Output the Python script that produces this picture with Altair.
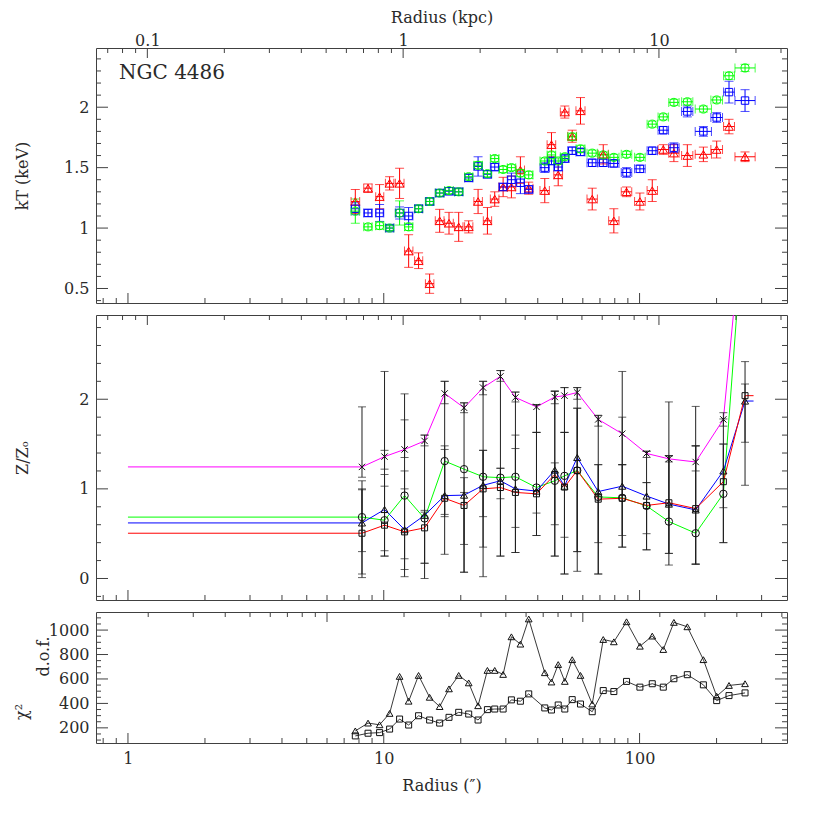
import altair as alt
import pandas as pd

FONT = "DejaVu Serif"
FS = 16
INK = "#404040"
TXT = "#2a2a2a"
RED, BLUE, GREEN, MAG = "#ff0000", "#0000ff", "#00ff00", "#ff00ff"
W = 691
H1, H2, H3 = 255, 285, 131
XDOM = [0.75, 377.0]
KPC_PER_ARCSEC = 0.084
MAJ, MIN = 10, 5
CROSS = "M-1,-1L1,1M-1,1L1,-1"
TITLE_X = -66

# ---------------- tick values ----------------
sec_major = [1, 10, 100]
sec_minor = [0.8, 0.9, 2, 3, 4, 5, 6, 7, 8, 9, 20, 30, 40, 50, 60, 70, 80, 90, 200, 300]
kpc_major = [0.1, 1, 10]
kpc_minor = [0.07, 0.08, 0.09, 0.2, 0.3, 0.4, 0.5, 0.6, 0.7, 0.8, 0.9,
             2, 3, 4, 5, 6, 7, 8, 9, 20, 30]
min_major = [0.1, 1]
min_minor = [0.02, 0.03, 0.04, 0.05, 0.06, 0.07, 0.08, 0.09,
             0.2, 0.3, 0.4, 0.5, 0.6, 0.7, 0.8, 0.9, 2, 3, 4, 5, 6]
kT_major = [0.5, 1, 1.5, 2]
kT_minor = [0.4, 0.6, 0.7, 0.8, 0.9, 1.1, 1.2, 1.3, 1.4, 1.6, 1.7, 1.8, 1.9, 2.1, 2.2, 2.3, 2.4]
Z_major = [0, 1, 2]
Z_minor = [-0.2, 0.2, 0.4, 0.6, 0.8, 1.2, 1.4, 1.6, 1.8, 2.2, 2.4, 2.6, 2.8]
chi_major = [200, 400, 600, 800, 1000]
chi_minor = [100, 150, 250, 300, 350, 450, 500, 550, 650, 700, 750, 850, 900, 950, 1050, 1100]

# ---------------- top panel: temperatures ----------------
r_kT = [7.74, 8.68, 9.63, 10.54, 11.53, 12.51, 13.68, 15.11, 16.54, 17.99, 19.63, 21.48,
        23.37, 25.42, 27.15, 29.28, 31.55, 34.21, 36.87, 42.60, 45.25, 48.07, 51.02, 54.53,
        58.76, 65.30, 72.11, 79.33, 88.93, 100.3, 112.1, 123.8, 136.2, 153.7, 177.6, 200.2,
        223.7, 258.4]
r_in = [7.45, 8.35, 9.3, 10.15, 11.1, 12.05, 13.2, 14.55, 15.9, 17.3, 18.9, 20.7, 22.5, 24.5,
        26.1, 28.2, 30.4, 32.9, 35.5, 40.8, 43.5, 46.2, 49.0, 52.4, 56.4, 62.3, 68.8, 75.7,
        84.8, 95.6, 107.0, 118.1, 130.0, 146.0, 165.0, 190.0, 213.0, 236.0]
r_out = [8.05, 9.0, 10.0, 10.95, 12.0, 13.0, 14.2, 15.7, 17.2, 18.7, 20.4, 22.3, 24.3, 26.4,
         28.2, 30.4, 32.8, 35.5, 38.3, 44.4, 47.0, 50.0, 53.0, 56.7, 61.2, 68.4, 75.5, 83.1,
         93.2, 105.2, 117.5, 129.8, 142.7, 161.5, 191.0, 211.0, 235.0, 283.0]
kT_red = [1.22, 1.33, 1.26, 1.37, 1.37, 0.81, 0.73, 0.54, 1.06, 1.04, 1.01, 1.01, 1.22, 1.06,
          1.24, 1.34, 1.34, 1.48, 1.33, 1.31, 1.69, 1.44, 1.96, 1.76, 1.97, 1.24, 1.61, 1.06,
          1.30, 1.22, 1.31, 1.65, 1.62, 1.60, 1.61, 1.65, 1.84, 1.59]
kT_red_err = [0.10, 0.035, 0.10, 0.055, 0.125, 0.135, 0.065, 0.08, 0.095, 0.09, 0.12, 0.05,
              0.10, 0.11, 0.06, 0.08, 0.09, 0.11, 0.05, 0.10, 0.10, 0.09, 0.05, 0.05, 0.11,
              0.09, 0.08, 0.10, 0.04, 0.07, 0.09, 0.04, 0.07, 0.09, 0.06, 0.07, 0.06, 0.04]
kT_blue = [1.16, 1.125, 1.125, 1.0, 1.125, 1.10, 1.16, 1.22, 1.29, 1.305, 1.30, 1.415, 1.51,
           1.445, 1.505, 1.34, 1.40, 1.375, 1.32, 1.50, 1.555, 1.505, 1.575, 1.64, 1.63, 1.54,
           1.54, 1.535, 1.46, 1.49, 1.64, 1.81, 1.665, 1.965, 1.80, 1.915, 2.125, 2.055]
kT_blue_err = [0.05, 0.03, 0.07, 0.02, 0.05, 0.07, 0.03, 0.03, 0.03, 0.03, 0.03, 0.03, 0.08,
               0.03, 0.03, 0.03, 0.055, 0.09, 0.03, 0.04, 0.03, 0.03, 0.03, 0.03, 0.03, 0.03,
               0.03, 0.03, 0.04, 0.03, 0.03, 0.03, 0.04, 0.045, 0.04, 0.04, 0.09, 0.09]
kT_green = [1.14, 1.01, 1.02, 1.0, 1.125, 1.01, 1.16, 1.22, 1.29, 1.31, 1.30, 1.425, 1.52,
            1.45, 1.575, 1.485, 1.50, 1.455, 1.44, 1.555, 1.605, 1.555, 1.59, 1.755, 1.655,
            1.62, 1.605, 1.585, 1.61, 1.585, 1.86, 1.92, 2.04, 2.045, 1.985, 2.06, 2.26, 2.325]
kT_green_err = [0.10, 0.025, 0.03, 0.02, 0.10, 0.03, 0.025, 0.025, 0.025, 0.025, 0.025, 0.025,
                0.03, 0.025, 0.025, 0.025, 0.025, 0.03, 0.03, 0.025, 0.025, 0.025, 0.025, 0.03,
                0.03, 0.025, 0.025, 0.025, 0.025, 0.025, 0.025, 0.025, 0.025, 0.025, 0.025,
                0.025, 0.03, 0.03]

# ---------------- middle panel: abundances ----------------
r_Z = [8.22, 10.07, 12.06, 14.44, 17.30, 20.60, 24.45, 28.58, 32.71, 39.54, 46.62, 50.87,
       57.05, 68.94, 85.55, 106.5, 130.2, 165.7, 212.6, 258.4]
r_Z_left, r_Z_right = 1.0, 279.0
Z_mag = [1.245, 1.36, 1.44, 1.535, 2.065, 1.905, 2.13, 2.255, 2.02, 1.915, 2.025, 2.04, 2.075,
         1.775, 1.615, 1.395, 1.335, 1.30, 1.775, 4.3]
Z_mag_lo = [1.13, 1.22, 1.35, 1.48, 1.95, 1.85, 2.05, 2.20, 1.97, 1.63, 1.95, 1.63, 2.00, 1.70,
            1.27, 1.35, 1.30, 1.20, 1.70, 3.5]
Z_mag_hi = [1.915, 1.43, 1.77, 1.60, 2.20, 1.96, 2.20, 2.32, 2.08, 1.94, 2.09, 2.13, 2.13, 1.82,
            1.80, 1.42, 1.37, 1.48, 1.85, 5.0]
Z_grn = [0.685, 0.65, 0.925, 0.67, 1.31, 1.22, 1.135, 1.125, 1.135, 1.015, 1.09, 1.145, 1.205,
         0.91, 0.90, 0.81, 0.635, 0.505, 0.945, 4.2]
Z_grn_lo = [0.30, 0.25, 0.22, 0.00, 0.715, 0.38, 0.35, 0.25, 0.29, 0.48, 0.25, 0.46, 0.30, 0.05,
            0.35, 0.32, 0.15, 0.16, 0.40, 3.0]
Z_grn_hi = [1.09, 2.31, 2.06, 1.60, 2.20, 1.96, 2.20, 2.32, 2.08, 1.94, 2.09, 2.13, 2.13, 1.82,
            2.31, 1.07, 1.97, 1.48, 1.78, 5.0]
Z_blu = [0.62, 0.77, 0.545, 0.705, 0.925, 0.93, 1.04, 1.09, 1.0, 0.975, 1.21, 1.03, 1.35, 0.97,
         1.03, 0.92, 0.83, 0.765, 1.20, 1.98]
Z_blu_lo = [0.05, 0.31, 0.02, 0.17, 0.27, 0.07, 0.02, 0.89, 0.57, 0.73, 0.60, 0.05, 0.30, 0.05,
            0.48, 0.32, 0.28, 0.16, 0.79, 1.04]
Z_blu_hi = [0.99, 1.16, 1.20, 0.76, 1.44, 1.125, 1.43, 1.23, 1.45, 1.63, 1.29, 1.63, 1.90, 1.27,
            1.27, 1.42, 1.37, 1.92, 1.50, 2.42]
Z_red = [0.505, 0.595, 0.52, 0.565, 0.895, 0.815, 1.0, 1.015, 0.96, 0.945, 1.16, 1.02, 1.205,
         0.885, 0.895, 0.815, 0.845, 0.78, 1.08, 2.04]
Z_red_lo = [0.01, 0.25, 0.10, 0.17, 0.69, 0.07, 0.69, 0.25, 0.29, 0.48, 0.25, 0.05, 0.08, 0.40,
            0.35, 0.50, 0.28, 0.16, 0.40, 1.52]
Z_red_hi = [1.0, 1.03, 1.0, 0.74, 1.48, 0.96, 1.43, 1.23, 1.60, 1.63, 2.09, 1.63, 1.90, 1.27,
            1.27, 1.07, 1.37, 1.48, 1.50, 2.17]

# ---------------- bottom panel: chi^2 and d.o.f. ----------------
chi_tri = [175, 239, 225, 318, 621, 418, 629, 450, 374, 519, 629, 568, 381, 670, 670, 637, 945,
           885, 1091, 651, 575, 718, 580, 758, 629, 395, 923, 904, 1068, 868, 951, 841, 1063,
           1027, 758, 459, 547, 561]
chi_sq = [134, 156, 161, 190, 272, 223, 299, 264, 239, 286, 327, 313, 264, 349, 354, 354, 429,
          418, 478, 363, 346, 387, 354, 431, 395, 332, 505, 497, 580, 533, 561, 533, 602, 635,
          552, 423, 464, 486]

# ---------------- scales ----------------
def logscale(dom):
    return alt.Scale(type="log", domain=dom, nice=False)

SX = logscale(XDOM)
SKPC = logscale([XDOM[0] * KPC_PER_ARCSEC, XDOM[1] * KPC_PER_ARCSEC])
SMIN = logscale([XDOM[0] / 60.0, XDOM[1] / 60.0])
SY1 = alt.Scale(domain=[0.38, 2.49], nice=False, zero=False)
SY2 = alt.Scale(domain=[-0.24, 2.94], nice=False, zero=False)
SY3 = alt.Scale(domain=[76, 1148], nice=False, zero=False)

LAB = dict(labelFont=FONT, labelFontSize=FS, labelColor=TXT, ticks=False, tickSize=0,
           domain=False, grid=False, titleFont=FONT, titleFontSize=FS,
           titleFontWeight="normal", titleColor=TXT)


def yaxis(values, title, H, fmt="~g", tx=TITLE_X, ty=None):
    return alt.Axis(values=values, format=fmt, title=title, labelPadding=7,
                    titleAngle=270, titleBaseline="bottom", titleAlign="center",
                    titleX=tx, titleY=(H / 2 if ty is None else ty), **LAB)


YAX1 = yaxis(kT_major, "kT (keV)", H1)
YAX2 = yaxis(Z_major, "Z/Z\u2092", H2)
YAX3 = yaxis(chi_major, "d.o.f.", H3, fmt="d", tx=TITLE_X + 21, ty=44)
KPC_AX = alt.Axis(orient="top", values=kpc_major, format="~g", title="Radius (kpc)",
                  labelPadding=0, titlePadding=7, **LAB)
BOT_AX = alt.Axis(orient="bottom", values=sec_major, format="~g", title="Radius (\u2033)",
                  labelPadding=7, titlePadding=11, **LAB)


def X(f, scale, axis):
    return alt.X(f, type="quantitative", scale=scale, axis=axis)


def Y(f, scale, axis):
    return alt.Y(f, type="quantitative", scale=scale, axis=axis)


def tick_df(vals):
    return pd.DataFrame({"t": vals})


def frame_ticks(H, ys, yax, ymaj, ymin, xax):
    out = []
    for vals, L in [(sec_major, MAJ), (sec_minor, MIN)]:
        out.append(alt.Chart(tick_df(vals)).mark_rule(color=INK, strokeWidth=1).encode(
            x=X("t", SX, xax), y=alt.value(H), y2=alt.value(H - L)))
    for vals, L in [(ymaj, MAJ + 2), (ymin, MIN)]:
        out.append(alt.Chart(tick_df(vals)).mark_rule(color=INK, strokeWidth=1).encode(
            y=Y("t", ys, yax), x=alt.value(0), x2=alt.value(L)))
        out.append(alt.Chart(tick_df(vals)).mark_rule(color=INK, strokeWidth=1).encode(
            y=Y("t", ys, yax), x=alt.value(W), x2=alt.value(W - L)))
    return out


def top_ticks(scale, maj, mn, axis):
    a = alt.Chart(tick_df(maj)).mark_rule(color=INK, strokeWidth=1).encode(
        x=X("t", scale, axis), y=alt.value(0), y2=alt.value(MAJ))
    b = alt.Chart(tick_df(mn)).mark_rule(color=INK, strokeWidth=1).encode(
        x=X("t", scale, axis), y=alt.value(0), y2=alt.value(MIN))
    return alt.layer(a, b)


COL = alt.Color("col:N", scale=None)

# ---------------- panel 1 ----------------
rows = []
for col, shp, sz, vals, errs in [(RED, "triangle-up", 75, kT_red, kT_red_err),
                                 (BLUE, "square", 55, kT_blue, kT_blue_err),
                                 (GREEN, "circle", 65, kT_green, kT_green_err)]:
    for i in range(len(r_kT)):
        rows.append(dict(r=r_kT[i], rin=r_in[i], rout=r_out[i], kT=vals[i],
                         lo=vals[i] - errs[i], hi=vals[i] + errs[i], col=col, shape=shp, sz=sz))
d1 = alt.Chart(pd.DataFrame(rows))
XA = None
p1_layers = [
    d1.mark_rule(strokeWidth=1).encode(x=X("rin:Q", SX, XA), x2="rout:Q",
                                       y=Y("kT:Q", SY1, YAX1), color=COL),
    d1.mark_rule(strokeWidth=1).encode(x=X("r:Q", SX, XA), y=Y("lo:Q", SY1, YAX1), y2="hi:Q", color=COL),
    d1.mark_tick(orient="horizontal", size=9, thickness=1).encode(
        x=X("r:Q", SX, XA), y=Y("lo:Q", SY1, YAX1), color=COL),
    d1.mark_tick(orient="horizontal", size=9, thickness=1).encode(
        x=X("r:Q", SX, XA), y=Y("hi:Q", SY1, YAX1), color=COL),
    d1.mark_tick(orient="vertical", size=9, thickness=1).encode(
        x=X("rin:Q", SX, XA), y=Y("kT:Q", SY1, YAX1), color=COL),
    d1.mark_tick(orient="vertical", size=9, thickness=1).encode(
        x=X("rout:Q", SX, XA), y=Y("kT:Q", SY1, YAX1), color=COL),
    d1.mark_point(filled=False, strokeWidth=1, opacity=1).encode(
        x=X("r:Q", SX, XA), y=Y("kT:Q", SY1, YAX1), color=COL,
        shape=alt.Shape("shape:N", scale=None), size=alt.Size("sz:Q", scale=None)),
    alt.Chart(pd.DataFrame({"label": ["NGC 4486"]})).mark_text(
        align="left", baseline="middle", font=FONT, fontSize=20, color=TXT).encode(
        text="label:N", x=alt.value(23), y=alt.value(25)),
]
panel1 = alt.layer(
    alt.layer(*p1_layers, *frame_ticks(H1, SY1, YAX1, kT_major, kT_minor, XA)),
    top_ticks(SKPC, kpc_major, kpc_minor, KPC_AX),
).resolve_scale(x="independent").properties(width=W, height=H1)

# ---------------- panel 2 ----------------
line_rows, pt_rows = [], []
for ser, col, shp, sz, vals, lo, hi in [
        ("mag", MAG, CROSS, 40, Z_mag, Z_mag_lo, Z_mag_hi),
        ("grn", GREEN, "circle", 55, Z_grn, Z_grn_lo, Z_grn_hi),
        ("blu", BLUE, "triangle-up", 50, Z_blu, Z_blu_lo, Z_blu_hi),
        ("red", RED, "square", 36, Z_red, Z_red_lo, Z_red_hi)]:
    line_rows.append(dict(ser=ser, col=col, r=r_Z_left, Z=vals[0]))
    for i in range(len(r_Z)):
        line_rows.append(dict(ser=ser, col=col, r=r_Z[i], Z=vals[i]))
        pt_rows.append(dict(ser=ser, r=r_Z[i], Z=vals[i], lo=lo[i], hi=hi[i], shape=shp, sz=sz))
    line_rows.append(dict(ser=ser, col=col, r=r_Z_right, Z=vals[-1]))
dl = alt.Chart(pd.DataFrame(line_rows))
dp = alt.Chart(pd.DataFrame(pt_rows))
EB = "#202020"
p2_layers = [
    dl.mark_line(strokeWidth=1, clip=True).encode(
        x=X("r:Q", SX, XA), y=Y("Z:Q", SY2, YAX2), color=COL, detail="ser:N", order="r:Q"),
    dp.mark_rule(strokeWidth=1, color=EB, clip=True).encode(
        x=X("r:Q", SX, XA), y=Y("lo:Q", SY2, YAX2), y2="hi:Q"),
    dp.mark_tick(orient="horizontal", size=8, thickness=1, color=EB, clip=True).encode(
        x=X("r:Q", SX, XA), y=Y("lo:Q", SY2, YAX2)),
    dp.mark_tick(orient="horizontal", size=8, thickness=1, color=EB, clip=True).encode(
        x=X("r:Q", SX, XA), y=Y("hi:Q", SY2, YAX2)),
    dp.mark_point(filled=False, strokeWidth=1, color="#111111", opacity=1, clip=True).encode(
        x=X("r:Q", SX, XA), y=Y("Z:Q", SY2, YAX2), shape=alt.Shape("shape:N", scale=None),
        size=alt.Size("sz:Q", scale=None)),
]
panel2 = alt.layer(
    alt.layer(*p2_layers, *frame_ticks(H2, SY2, YAX2, Z_major, Z_minor, XA)),
    top_ticks(SKPC, kpc_major, kpc_minor, None),
).resolve_scale(x="independent").properties(width=W, height=H2)

# ---------------- panel 3 ----------------
c_rows = []
for ser, shp, sz, vals in [("tri", "triangle-up", 45, chi_tri), ("sq", "square", 36, chi_sq)]:
    for i in range(len(r_kT)):
        c_rows.append(dict(ser=ser, r=r_kT[i], v=vals[i], shape=shp, sz=sz))
d3 = alt.Chart(pd.DataFrame(c_rows))
p3_layers = [
    d3.mark_line(strokeWidth=0.9, color="#222222").encode(
        x=X("r:Q", SX, BOT_AX), y=Y("v:Q", SY3, YAX3), detail="ser:N", order="r:Q"),
    d3.mark_point(filled=False, strokeWidth=1, color="#111111", opacity=1).encode(
        x=X("r:Q", SX, BOT_AX), y=Y("v:Q", SY3, YAX3), shape=alt.Shape("shape:N", scale=None),
        size=alt.Size("sz:Q", scale=None)),
    alt.Chart(pd.DataFrame({"label": ["\u03c7\u00b2"]})).mark_text(
        angle=270, align="center", baseline="bottom", font=FONT, fontSize=FS, color=TXT).encode(
        text="label:N", x=alt.value(TITLE_X), y=alt.value(100)),
]
panel3 = alt.layer(
    alt.layer(*p3_layers, *frame_ticks(H3, SY3, YAX3, chi_major, chi_minor, BOT_AX)),
    top_ticks(SMIN, min_major, min_minor, None),
).resolve_scale(x="independent").properties(width=W, height=H3)

chart = alt.vconcat(panel1, panel2, panel3, spacing=10).properties(
    padding={"left": 5, "top": 0, "right": 5, "bottom": 5}
).configure_view(stroke=INK, strokeWidth=1)

chart.save("out.html", embed_options={"renderer": "svg", "actions": False})
